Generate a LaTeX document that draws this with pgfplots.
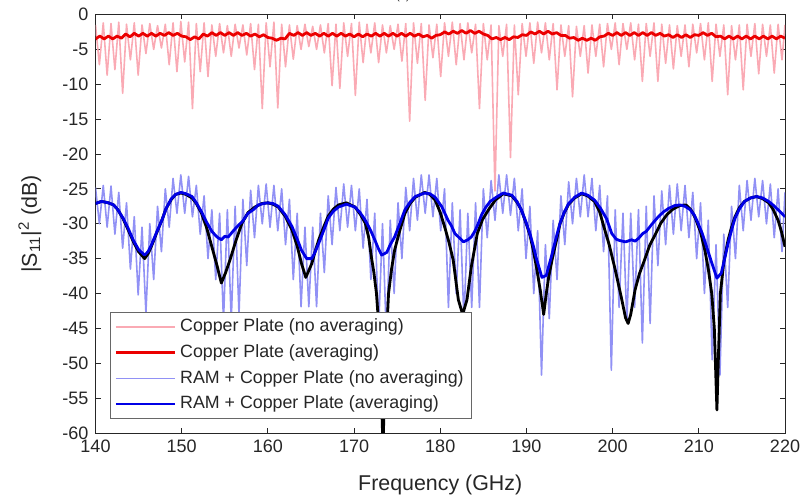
\documentclass[border=0pt]{standalone}
\usepackage{fontspec}
\setmainfont{Liberation Sans}
\usepackage{pgfplots}
\pgfplotsset{compat=1.18}
\definecolor{lred}{RGB}{250,170,180}
\definecolor{mred}{RGB}{235,0,0}
\definecolor{lblue}{RGB}{145,145,245}
\definecolor{mblue}{RGB}{0,0,230}
\definecolor{axgray}{RGB}{38,38,38}
\begin{document}
\begin{tikzpicture}
\begin{axis}[name=ax, scale only axis, width=344.75pt, height=209.25pt,
 xmin=140, xmax=220, ymin=-60, ymax=0,
 xtick={140,150,...,220}, ytick={-60,-55,...,0},
 tick align=inside, major tick length=2.5pt,
 axis line style={axgray, line width=0.4pt}, every tick/.style={axgray, line width=0.4pt},
 tick label style={font=\fontsize{9}{10}\selectfont, text=axgray},
 /pgf/number format/assume math mode=true,
 xlabel={Frequency (GHz)}, ylabel={|S\textsubscript{11}|\textsuperscript{2} (dB)},
 label style={font=\fontsize{10.7}{12}\selectfont, text=axgray},
 xlabel style={at={(axis description cs:0.5,-0.124)}, anchor=center},
 ylabel style={at={(axis description cs:-0.095,0.5)}, anchor=center},
 title={(a)}, title style={at={(axis description cs:0.446,1)}, anchor=south, yshift=0.1pt, inner sep=0pt, font=\fontsize{5.6}{6}\selectfont, text=axgray},
 legend style={at={(0.021,0.289)}, anchor=north west, draw=axgray!70, fill=white,
   font=\fontsize{8.9}{10.7}\selectfont, text=axgray, inner xsep=2pt, inner ysep=1pt, row sep=0pt,
   nodes={inner ysep=1.9pt, text height=6.8pt, text depth=2.2pt}, cells={anchor=west}},
 legend image code/.code={\draw[#1] (0pt,0pt) -- (29.5pt,0pt);},
 every axis plot/.append style={line join=round},
]
% Copper plate, no averaging
\addplot[lred, line width=0.8pt] coordinates {
(140,-1.5)(140.45,-7.2)(140.9,-1.2)(141.35,-8.7)(141.8,-1.3)(142.25,-7.9)(142.7,-1.1)(143.15,-11.3)(143.6,-1.4)(144.05,-6.5)(144.5,-1.2)(144.95,-8.7)(145.4,-1.5)(145.85,-5.6)(146.3,-1.3)(146.75,-5.0)(147.2,-1.6)(147.65,-4.8)(148.1,-1.4)(148.55,-7.2)(149.0,-1.2)(149.45,-8.2)(149.9,-1.0)(150.35,-6.8)(150.8,-1.1)(151.25,-13.5)(151.7,-1.3)(152.15,-8.2)(152.6,-1.2)(153.05,-8.9)(153.5,-1.5)(153.95,-6.0)(154.4,-1.3)(154.85,-5.5)(155.3,-1.6)(155.75,-6.0)(156.2,-1.4)(156.65,-4.8)(157.1,-1.5)(157.55,-5.8)(158.0,-1.3)(158.45,-7.9)(158.9,-1.4)(159.35,-13.5)(159.8,-1.2)(160.25,-7.5)(160.7,-1.1)(161.15,-13.4)(161.6,-1.4)(162.05,-7.5)(162.5,-1.5)(162.95,-6.4)(163.4,-1.6)(163.85,-5.0)(164.3,-1.4)(164.75,-4.6)(165.2,-1.7)(165.65,-5.0)(166.1,-1.5)(166.55,-5.5)(167.0,-1.3)(167.45,-10.2)(167.9,-1.4)(168.35,-10.6)(168.8,-1.2)(169.25,-6.0)(169.7,-1.3)(170.15,-11.6)(170.6,-1.1)(171.05,-6.9)(171.5,-1.4)(171.95,-5.5)(172.4,-1.2)(172.85,-6.9)(173.3,-1.5)(173.75,-5.5)(174.2,-1.6)(174.65,-5.0)(175.1,-1.4)(175.55,-6.7)(176.0,-1.3)(176.45,-15.3)(176.9,-1.2)(177.35,-7.0)(177.8,-1.3)(178.25,-12.3)(178.7,-1.5)(179.15,-6.2)(179.6,-1.4)(180.05,-8.9)(180.5,-1.2)(180.95,-6.0)(181.4,-1.1)(181.85,-7.2)(182.3,-1.3)(182.75,-6.5)(183.2,-1.2)(183.65,-5.5)(184.1,-1.4)(184.55,-13.5)(185.0,-1.3)(185.45,-6.5)(185.9,-1.5)(186.35,-25.3)(186.8,-1.6)(187.25,-6.0)(187.7,-1.4)(188.15,-20.5)(188.6,-1.5)(189.05,-11.5)(189.5,-1.3)(189.95,-6.0)(190.4,-1.2)(190.85,-7.0)(191.3,-1.1)(191.75,-5.5)(192.2,-1.2)(192.65,-6.5)(193.1,-1.3)(193.55,-10.8)(194.0,-1.5)(194.45,-6.0)(194.9,-1.6)(195.35,-11.8)(195.8,-1.7)(196.25,-6.0)(196.7,-1.6)(197.15,-8.4)(197.6,-1.5)(198.05,-6.0)(198.5,-1.4)(198.95,-7.5)(199.4,-1.3)(199.85,-5.0)(200.3,-1.2)(200.75,-7.2)(201.2,-1.3)(201.65,-5.0)(202.1,-1.2)(202.55,-6.5)(203.0,-1.4)(203.45,-9.6)(203.9,-1.3)(204.35,-6.0)(204.8,-1.2)(205.25,-9.6)(205.7,-1.4)(206.15,-7.0)(206.6,-1.5)(207.05,-7.8)(207.5,-1.6)(207.95,-6.0)(208.4,-1.5)(208.85,-7.5)(209.3,-1.4)(209.75,-5.5)(210.2,-1.3)(210.65,-6.5)(211.1,-1.2)(211.55,-9.6)(212.0,-1.4)(212.45,-6.0)(212.9,-1.5)(213.35,-11.5)(213.8,-1.6)(214.25,-6.5)(214.7,-1.5)(215.15,-10.8)(215.6,-1.4)(216.05,-6.0)(216.5,-1.3)(216.95,-8.5)(217.4,-1.4)(217.85,-6.0)(218.3,-1.5)(218.75,-8.4)(219.2,-1.4)(219.65,-6.5)(220.0,-1.5)
};
\addlegendentry{Copper Plate (no averaging)}
% Copper plate, averaging
\addplot[mred, line width=1.4pt] coordinates {
(140.0,-3.5)(140.5,-3.1)(141.0,-3.5)(141.5,-3.1)(142.0,-3.5)(142.5,-3.1)(143.0,-3.4)(143.5,-2.8)(144.0,-3.2)(144.5,-2.7)(145.0,-3.1)(145.5,-2.7)(146.0,-3.1)(146.5,-2.7)(147.0,-3.1)(147.5,-2.7)(148.0,-3.0)(148.5,-2.6)(149.0,-3.0)(149.5,-2.7)(150.0,-3.1)(150.5,-3.2)(151.0,-3.6)(151.5,-3.2)(152.0,-3.5)(152.5,-2.8)(153.0,-3.1)(153.5,-2.6)(154.0,-3.0)(154.5,-2.6)(155.0,-3.0)(155.5,-2.6)(156.0,-3.0)(156.5,-2.6)(157.0,-3.0)(157.5,-2.7)(158.0,-3.1)(158.5,-2.8)(159.0,-3.2)(159.5,-2.9)(160.0,-3.3)(160.5,-3.4)(161.0,-3.7)(161.5,-3.4)(162.0,-3.5)(162.5,-2.7)(163.0,-3.0)(163.5,-2.6)(164.0,-3.0)(164.5,-2.6)(165.0,-3.0)(165.5,-2.7)(166.0,-3.1)(166.5,-2.7)(167.0,-3.1)(167.5,-2.7)(168.0,-3.1)(168.5,-2.7)(169.0,-3.1)(169.5,-2.8)(170.0,-3.2)(170.5,-2.8)(171.0,-3.2)(171.5,-2.8)(172.0,-3.1)(172.5,-2.7)(173.0,-3.1)(173.5,-2.7)(174.0,-3.1)(174.5,-2.7)(175.0,-3.1)(175.5,-2.7)(176.0,-3.1)(176.5,-2.7)(177.0,-3.1)(177.5,-2.8)(178.0,-3.2)(178.5,-3.0)(179.0,-3.4)(179.5,-3.0)(180.0,-2.9)(180.5,-2.5)(181.0,-2.8)(181.5,-2.4)(182.0,-2.7)(182.5,-2.3)(183.0,-2.7)(183.5,-2.3)(184.0,-2.7)(184.5,-2.4)(185.0,-2.8)(185.5,-3.0)(186.0,-3.5)(186.5,-3.3)(187.0,-3.6)(187.5,-3.3)(188.0,-3.6)(188.5,-3.2)(189.0,-3.3)(189.5,-2.9)(190.0,-3.0)(190.5,-2.5)(191.0,-2.8)(191.5,-2.4)(192.0,-2.8)(192.5,-2.4)(193.0,-2.8)(193.5,-2.6)(194.0,-3.0)(194.5,-3.0)(195.0,-3.4)(195.5,-3.3)(196.0,-3.7)(196.5,-3.4)(197.0,-3.7)(197.5,-3.4)(198.0,-3.7)(198.5,-3.2)(199.0,-3.1)(199.5,-2.7)(200.0,-3.0)(200.5,-2.6)(201.0,-3.0)(201.5,-2.6)(202.0,-3.0)(202.5,-2.6)(203.0,-3.0)(203.5,-2.6)(204.0,-3.0)(204.5,-2.6)(205.0,-3.0)(205.5,-2.7)(206.0,-3.1)(206.5,-2.9)(207.0,-3.3)(207.5,-2.9)(208.0,-3.3)(208.5,-2.9)(209.0,-3.3)(209.5,-2.9)(210.0,-3.0)(210.5,-2.6)(211.0,-3.0)(211.5,-2.7)(212.0,-3.2)(212.5,-3.1)(213.0,-3.5)(213.5,-3.1)(214.0,-3.5)(214.5,-3.1)(215.0,-3.5)(215.5,-3.1)(216.0,-3.5)(216.5,-3.1)(217.0,-3.5)(217.5,-3.1)(218.0,-3.5)(218.5,-3.1)(219.0,-3.5)(219.5,-3.1)(220.0,-3.4)
};
\addlegendentry{Copper Plate (averaging)}
% RAM + copper plate, no averaging
\addplot[lblue, line width=0.8pt] coordinates {
(140,-24.8)(140.45,-30)(140.9,-24.5)(141.35,-30.5)(141.8,-24.6)(142.25,-31.5)(142.7,-25.5)(143.15,-33.5)(143.6,-27)(144.05,-36.5)(144.5,-29)(144.95,-40.2)(145.4,-30.5)(145.85,-42.8)(146.3,-30)(146.75,-38)(147.2,-27.5)(147.65,-34)(148.1,-25)(148.55,-30.5)(149,-23.5)(149.45,-28.5)(149.9,-23)(150.35,-28.5)(150.8,-23.2)(151.25,-29)(151.7,-24.5)(152.15,-31.5)(152.6,-26)(153.05,-35)(153.5,-28)(153.95,-38)(154.4,-28.5)(154.85,-44)(155.3,-28)(155.75,-44)(156.2,-27.5)(156.65,-43)(157.1,-26.5)(157.55,-36)(158,-25.2)(158.45,-32)(158.9,-24.5)(159.35,-30)(159.8,-24.3)(160.25,-30.5)(160.7,-24.5)(161.15,-31)(161.6,-25)(162.05,-33)(162.5,-26.5)(162.95,-38)(163.4,-28.5)(163.85,-41.9)(164.3,-30.5)(164.75,-41.9)(165.2,-30.5)(165.65,-41.9)(166.1,-28.5)(166.55,-37)(167,-26)(167.45,-33)(167.9,-24.8)(168.35,-31)(168.8,-24.3)(169.25,-30.5)(169.7,-24.5)(170.15,-31)(170.6,-25)(171.05,-33.5)(171.5,-26.5)(171.95,-38)(172.4,-28.5)(172.85,-45)(173.3,-30)(173.75,-46)(174.2,-29.5)(174.65,-40)(175.1,-27)(175.55,-35)(176,-24.8)(176.45,-31)(176.9,-23.5)(177.35,-29.5)(177.8,-23)(178.25,-28.5)(178.7,-23)(179.15,-29)(179.6,-23.5)(180.05,-31)(180.5,-25)(180.95,-42)(181.4,-27)(181.85,-40)(182.3,-28)(182.75,-44)(183.2,-28.5)(183.65,-42)(184.1,-27)(184.55,-42)(185,-25)(185.45,-32)(185.9,-23.8)(186.35,-29.5)(186.8,-23)(187.25,-28.5)(187.7,-23)(188.15,-28.8)(188.6,-23.5)(189.05,-31)(189.5,-25)(189.95,-35)(190.4,-27.5)(190.85,-40)(191.3,-31)(191.75,-51.7)(192.2,-33)(192.65,-43.6)(193.1,-29.5)(193.55,-38)(194,-26)(194.45,-33)(194.9,-24)(195.35,-30)(195.8,-23.5)(196.25,-29)(196.7,-23)(197.15,-29)(197.6,-23.5)(198.05,-31)(198.5,-24.5)(198.95,-34)(199.4,-26)(199.85,-51)(200.3,-28)(200.75,-42)(201.2,-28.5)(201.65,-44)(202.1,-28.5)(202.55,-42)(203,-28)(203.45,-47.1)(203.9,-27.5)(204.35,-44.3)(204.8,-26)(205.25,-36)(205.7,-25.3)(206.15,-33)(206.6,-24.5)(207.05,-31.5)(207.5,-24.3)(207.95,-31)(208.4,-24.5)(208.85,-32)(209.3,-25.5)(209.75,-35)(210.2,-27)(210.65,-40)(211.1,-29.5)(211.55,-49.5)(212,-33)(212.45,-51.7)(212.9,-31.5)(213.35,-42)(213.8,-27.5)(214.25,-35)(214.7,-24.5)(215.15,-31)(215.6,-23.8)(216.05,-29.5)(216.5,-23.5)(216.95,-29)(217.4,-23.8)(217.85,-30)(218.3,-24.3)(218.75,-32)(219.2,-25)(219.65,-34)(220,-25.5)
};
\addlegendentry{RAM + Copper Plate (no averaging)}
% black reference curve (not in legend), drawn below the blue average
\addplot[black, line width=1.4pt, forget plot] coordinates {
(140,-27.1)(140.7,-26.8)(141.5,-27.0)(142.1,-27.3)(142.6,-28.0)(143.2,-29.3)(143.8,-30.9)(144.4,-32.6)(145,-34.0)(145.7,-35.0)(146.1,-34.3)(146.5,-33.2)(147.1,-31.3)(147.7,-29.5)(148.2,-27.8)(148.8,-26.5)(149.3,-25.8)(149.9,-25.6)(150.5,-25.8)(151.2,-26.3)(151.7,-27.1)(152.3,-28.5)(152.9,-30.6)(153.5,-33.3)(154.1,-36.0)(154.6,-38.5)(155.1,-37.0)(155.6,-35.2)(156.3,-32.4)(157.0,-29.9)(157.7,-28.4)(158.5,-27.6)(159.3,-27.1)(160.0,-27.0)(160.6,-27.2)(161.2,-27.6)(162.0,-28.9)(162.8,-30.9)(163.4,-33.2)(163.9,-35.7)(164.4,-37.7)(165.1,-35.7)(165.5,-33.9)(165.9,-32.3)(166.5,-30.4)(167.0,-28.9)(167.6,-27.9)(168.2,-27.3)(169.1,-27.0)(170.1,-27.6)(170.7,-28.6)(171.3,-29.9)(171.7,-32.0)(172.0,-34.7)(172.3,-37.0)(172.6,-40.0)(173.0,-47.0)(173.35,-62)(173.7,-48.0)(174.0,-40.0)(174.35,-36.5)(174.7,-33.8)(175.3,-31.0)(175.9,-28.5)(176.5,-27.1)(177.1,-26.2)(178.2,-25.5)(178.8,-25.8)(179.4,-26.6)(180.0,-28.4)(180.5,-30.4)(181.0,-32.6)(181.5,-35.2)(182.1,-40.9)(182.6,-43.0)(183.1,-40.9)(183.6,-36.2)(184.3,-31.4)(184.9,-29.4)(185.6,-28.0)(186.4,-26.6)(187.3,-25.7)(188.3,-26.0)(188.9,-26.9)(189.4,-28.0)(189.9,-29.7)(190.4,-31.6)(190.8,-33.8)(191.2,-36.5)(191.6,-39.5)(192.0,-43.0)(192.3,-40.0)(192.6,-37.5)(193.0,-35.0)(193.5,-32.3)(193.9,-30.0)(194.4,-28.4)(194.9,-27.2)(195.6,-26.3)(196.4,-25.7)(197.1,-26.0)(197.9,-26.8)(198.5,-28.3)(199.0,-30.5)(199.6,-33.0)(200.3,-36.6)(201.0,-40.5)(201.5,-43.5)(201.8,-44.3)(202.1,-43.0)(202.6,-39.5)(203.1,-37.2)(203.7,-35.2)(204.3,-33.1)(205.0,-31.4)(205.6,-29.9)(206.3,-28.7)(207.0,-27.9)(207.8,-27.4)(208.5,-27.3)(209.1,-28.0)(209.6,-29.2)(210.2,-31.2)(210.7,-33.8)(211.1,-36.5)(211.5,-40.0)(211.8,-45.0)(212.1,-56.7)(212.3,-48.0)(212.5,-40.0)(212.9,-35.5)(213.4,-32.3)(213.8,-30.5)(214.2,-29.0)(214.7,-27.7)(215.3,-26.8)(216.0,-26.3)(216.7,-26.1)(217.4,-26.4)(218.1,-27.0)(218.6,-27.9)(219.2,-29.5)(219.6,-31.2)(220,-33.3)
};
% RAM + copper plate, averaging
\addplot[mblue, line width=1.4pt] coordinates {
(140,-27.1)(140.7,-26.8)(141.5,-27.0)(142.1,-27.3)(142.6,-28.0)(143.2,-29.2)(143.8,-30.7)(144.4,-32.4)(145,-33.7)(145.7,-34.5)(146.1,-34.0)(146.5,-33.0)(147.1,-31.2)(147.7,-29.5)(148.2,-27.8)(148.8,-26.4)(149.3,-25.8)(149.9,-25.5)(150.5,-25.7)(151.2,-26.1)(151.7,-27.0)(152.3,-28.3)(152.9,-29.8)(153.5,-31.1)(154.1,-31.9)(154.6,-32.3)(155.0,-31.8)(155.4,-31.9)(156.0,-31.0)(156.6,-30.2)(157.1,-29.6)(157.7,-28.5)(158.3,-28.0)(158.9,-27.3)(159.5,-27.1)(160.0,-27.0)(160.6,-27.1)(161.2,-27.5)(162.0,-28.7)(162.8,-30.4)(163.4,-32.2)(163.9,-33.8)(164.5,-35.0)(165.1,-35.0)(165.5,-34.0)(165.9,-32.8)(166.5,-30.9)(167.0,-29.2)(167.6,-28.2)(168.2,-27.6)(169.1,-27.2)(170.1,-27.6)(170.7,-28.4)(171.3,-29.5)(171.9,-30.9)(172.4,-32.3)(172.8,-33.5)(173.2,-34.5)(173.8,-34.1)(174.2,-33.0)(174.7,-31.9)(175.3,-30.0)(175.9,-28.0)(176.5,-26.9)(177.1,-26.1)(178.2,-25.6)(178.8,-25.7)(179.4,-26.2)(180.2,-27.6)(180.9,-29.5)(181.3,-30.3)(181.7,-31.4)(182.2,-32.0)(182.7,-32.6)(183.2,-32.3)(183.6,-31.9)(184.0,-31.1)(184.4,-30.0)(184.8,-28.7)(185.3,-27.6)(185.8,-26.8)(186.5,-26.2)(187.3,-25.6)(188.3,-25.9)(188.9,-26.8)(189.4,-28.0)(189.9,-29.6)(190.4,-31.4)(190.8,-33.2)(191.2,-35.2)(191.8,-37.7)(192.3,-37.4)(192.9,-34.7)(193.4,-32.2)(193.9,-29.9)(194.4,-28.3)(194.9,-27.1)(195.6,-26.2)(196.4,-25.6)(197.1,-25.9)(197.9,-26.6)(198.6,-27.8)(199.3,-29.3)(199.9,-31.4)(200.4,-32.2)(200.8,-32.4)(201.5,-32.6)(202.2,-32.3)(202.6,-32.5)(203.0,-32.1)(203.5,-31.4)(203.9,-31.1)(204.6,-30.0)(205.3,-29.0)(205.9,-28.3)(206.5,-27.8)(207.2,-27.4)(207.8,-27.3)(208.4,-27.5)(209.0,-28.0)(209.5,-28.8)(209.9,-29.9)(210.4,-31.4)(210.9,-33.3)(211.5,-35.6)(212.1,-37.8)(212.6,-37.1)(213.0,-35.0)(213.4,-32.8)(213.8,-30.9)(214.2,-29.2)(214.7,-27.9)(215.3,-26.8)(216.0,-26.3)(216.7,-26.1)(217.4,-26.3)(218.1,-26.8)(218.6,-27.3)(219.2,-28.0)(220,-29.0)
};
\addlegendentry{RAM + Copper Plate (averaging)}
\end{axis}
\pgfresetboundingbox
\path[use as bounding box] ([xshift=-47.75pt,yshift=-32.5pt]ax.south west) rectangle ([xshift=11pt,yshift=7.25pt]ax.north east);
\end{tikzpicture}
\end{document}
